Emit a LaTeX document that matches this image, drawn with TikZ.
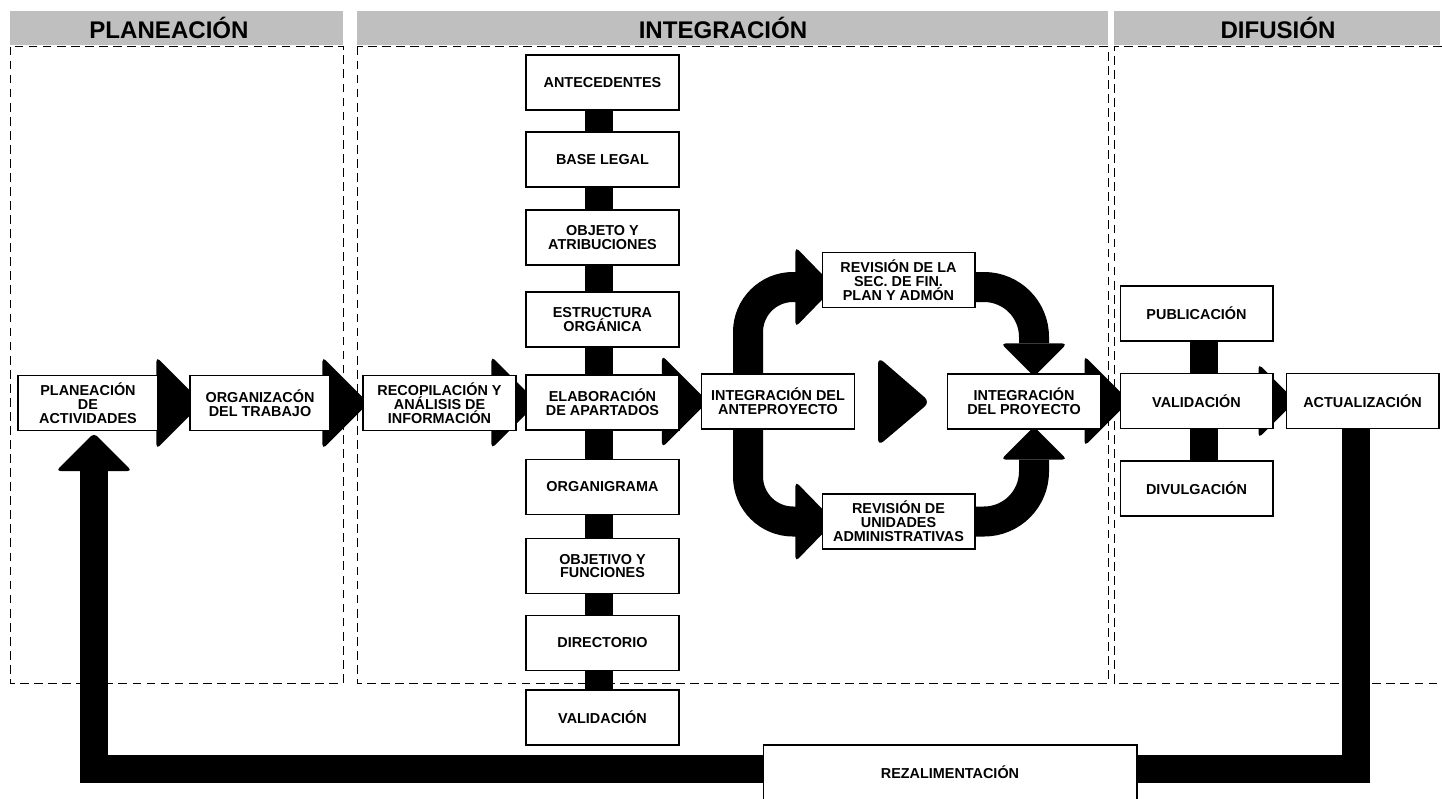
\documentclass[tikz,border=0pt]{standalone}
\usepackage{fontspec}
\setmainfont{Liberation Sans}
\usetikzlibrary{backgrounds}

\tikzset{
  box/.style={draw, fill=white, line width=0.6pt, align=center, inner sep=1pt,
    minimum width=3.06cm, minimum height=1.1cm,
    font=\bfseries\fontsize{8.2}{7.9}\selectfont},
  phase/.style={inner sep=0pt, font=\bfseries\fontsize{13.7}{14}\selectfont},
  frame/.style={line width=0.5pt, dash pattern=on 5pt off 3pt},
  head/.style={fill=black, rounded corners=2.5pt},
  band/.style={line width=0.6cm, rounded corners=0.9cm},
  bar/.style={line width=0.56cm},
}

\begin{document}
\begin{tikzpicture}[x=0.02cm, y=-0.02cm]
    \useasboundingbox (0,0) rectangle (1442,798);

    % fases
    \fill[black!25] (10,11) rectangle (343,45);
    \fill[black!25] (357,11) rectangle (1108,45);
    \fill[black!25] (1114,11) rectangle (1440,45);
    \node[phase] (fplan) at (169,28) {PLANEACIÓN};
    \node[phase] (finteg) at (723,28) {INTEGRACIÓN};
    \node[phase] (fdifus) at (1278,28) {DIFUSIÓN};
    \draw[frame] (10,46.5) rectangle (343,683);
    \draw[frame] (357,46.5) rectangle (1108,683);
    \draw[frame] (1442,46.5) -- (1114,46.5) -- (1114,683) -- (1442,683);

    % planeacion
    \node[box, minimum width=2.8cm] (plan) at (88,403) {PLANEACIÓN\\DE\\ACTIVIDADES};
    \node[box, minimum width=2.8cm] (org) at (260,403) {ORGANIZACÓN\\DEL TRABAJO};

    % integracion
    \node[box] (recop) at (439.5,403) {RECOPILACIÓN Y\\ANÁLISIS DE\\INFORMACIÓN};
    \node[box] (ante) at (602.5,82.5) {ANTECEDENTES};
    \node[box] (base) at (602.5,159.5) {BASE LEGAL};
    \node[box] (objeto) at (602.5,237.5) {OBJETO Y\\ATRIBUCIONES};
    \node[box] (estruct) at (602.5,319.5) {ESTRUCTURA\\ORGÁNICA};
    \node[box] (elab) at (602.5,402.5) {ELABORACIÓN\\DE APARTADOS};
    \node[box] (organi) at (602.5,487) {ORGANIGRAMA};
    \node[box] (objfun) at (602.5,566) {OBJETIVO Y\\FUNCIONES};
    \node[box] (direc) at (602.5,643) {DIRECTORIO};
    \node[box] (valcol) at (602.5,717.5) {VALIDACIÓN};
    \node[box] (antep) at (778,401.5) {INTEGRACIÓN DEL\\ANTEPROYECTO};
    \node[box] (revtop) at (898.5,280) {REVISIÓN DE LA\\SEC. DE FIN.\\PLAN Y ADMÓN};
    \node[box] (revbot) at (898.5,521.5) {REVISIÓN DE\\UNIDADES\\ADMINISTRATIVAS};
    \node[box] (proy) at (1024,401.5) {INTEGRACIÓN\\DEL PROYECTO};
    \fill[head, rounded corners=4pt] (878,357) -- (930,402) -- (878,446) -- cycle;

    % difusion
    \node[box] (pub) at (1196.5,313.5) {PUBLICACIÓN};
    \node[box] (valdif) at (1196.5,401) {VALIDACIÓN};
    \node[box] (divul) at (1196.5,488.5) {DIVULGACIÓN};
    \node[box] (actual) at (1362.5,401) {ACTUALIZACIÓN};

    \node[box, minimum width=7.48cm] (rezal) at (950,772.5) {REZALIMENTACIÓN};

    \begin{scope}[on background layer]
        \draw[bar] ([xshift=-0.07cm]ante.center) -- ([xshift=-0.07cm]valcol.center);
        \draw[bar] ([xshift=0.15cm]pub.center) -- ([xshift=0.15cm]divul.center);

        % flechas
        \fill[head] ([xshift=0.26cm]org.west) -- ++(-46,-46) -- ++(0,92) -- cycle;
        \fill[head] ([xshift=0.12cm]recop.west) -- ++(-46,-46) -- ++(0,92) -- cycle;
        \fill[head] ([xshift=0.24cm]elab.west) -- ++(-46,-46) -- ++(0,92) -- cycle;
        \fill[head] ([xshift=0.14cm]antep.west) -- ++(-46,-46) -- ++(0,92) -- cycle;
        \fill[head] ([xshift=0.2cm]valdif.west) -- ++(-45,-45) -- ++(0,90) -- cycle;
        \fill[head] ([xshift=0.2cm]actual.west) -- ++(-37,-37) -- ++(0,74) -- cycle;

        % revisiones
        \draw[band] ([xshift=-0.5cm,yshift=-0.14cm]revtop.west) -| ([xshift=-0.6cm]antep.center)
            |- ([xshift=-0.5cm]revbot.west);
        \fill[head] ([xshift=0.26cm,yshift=-0.14cm]revtop.west) -- ++(-39,-40) -- ++(0,80) -- cycle;
        \fill[head] ([xshift=0.26cm]revbot.west) -- ++(-39,-40) -- ++(0,80) -- cycle;
        \draw[band, rounded corners=1cm] ([xshift=-0.3cm,yshift=-0.14cm]revtop.east)
            -| ([xshift=0.2cm,yshift=0.6cm]proy.north);
        \draw[band, rounded corners=1cm] ([xshift=-0.3cm]revbot.east)
            -| ([xshift=0.2cm,yshift=-0.6cm]proy.south);
        \fill[head] ([xshift=0.2cm,yshift=-0.06cm]proy.north) -- ++(-33,-33) -- ++(66,0) -- cycle;
        \fill[head] ([xshift=0.2cm,yshift=0.06cm]proy.south) -- ++(-33,33) -- ++(66,0) -- cycle;

        % rezalimentacion
        \draw[bar] ([xshift=-0.13cm]actual.south) |- ([yshift=0.07cm]rezal.center)
            -| ([xshift=0.12cm,yshift=-0.6cm]plan.south);
        \fill[head] ([xshift=0.12cm,yshift=-0.04cm]plan.south) -- ++(38,38) -- ++(-76,0) -- cycle;
    \end{scope}
\end{tikzpicture}
\end{document}
